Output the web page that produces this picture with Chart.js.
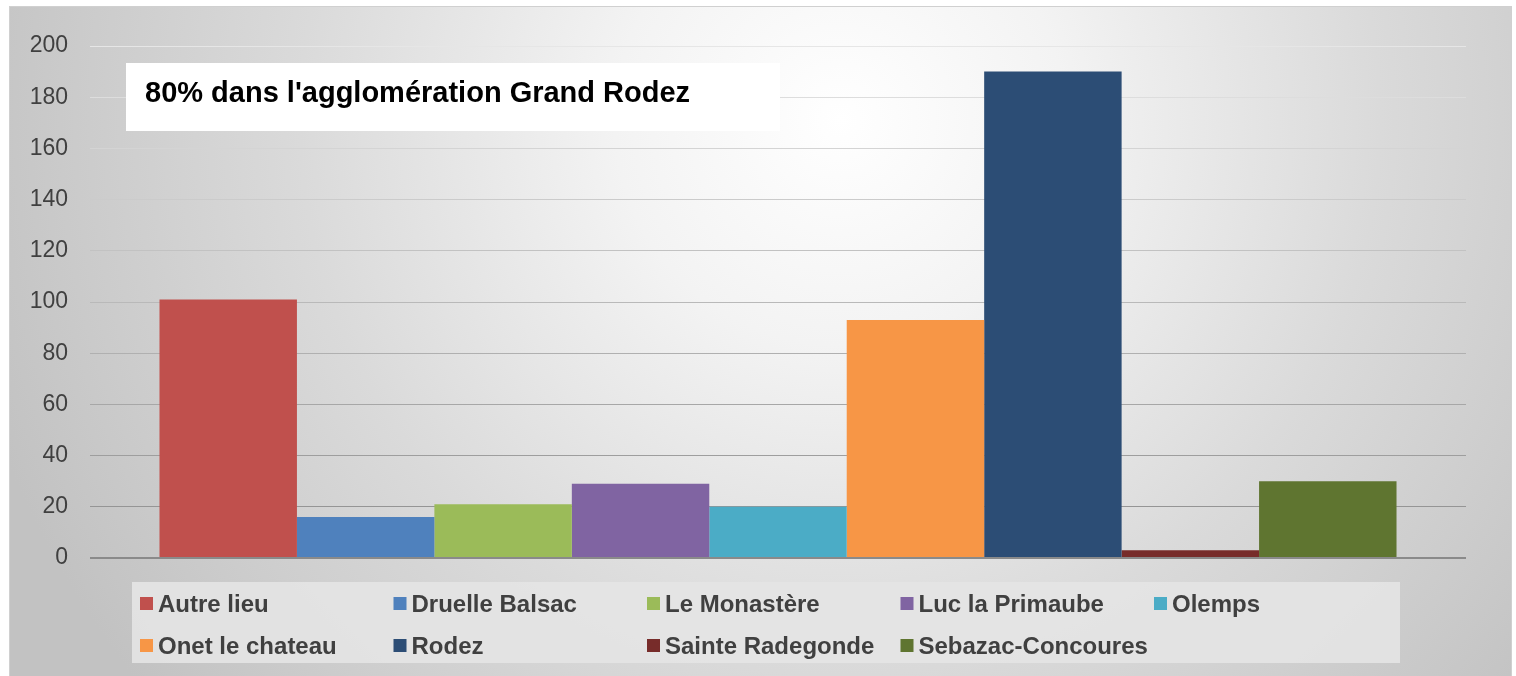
<!DOCTYPE html>
<html>
<head>
<meta charset="utf-8">
<script src="https://cdn.jsdelivr.net/npm/chart.js@4/dist/chart.umd.min.js"></script>
<style>
  html, body { margin: 0; padding: 0; background: #fff; }
  #wrap { width: 1516px; height: 676px; }
</style>
</head>
<body>
<div id="wrap"><canvas id="chart" width="1516" height="676"></canvas></div>
<script>
const communes = ["Autre lieu", "Druelle Balsac", "Le Monastère", "Luc la Primaube", "Olemps",
  "Onet le chateau", "Rodez", "Sainte Radegonde", "Sebazac-Concoures"];
const counts = [101, 16, 21, 29, 20, 93, 190, 3, 30];
const colors = ["#C0504D", "#4F81BD", "#9BBB59", "#8064A2", "#4BACC6",
  "#F79646", "#2C4D75", "#772C2A", "#5F7530"];
const titleText = "80% dans l'agglomération Grand Rodez";

const FONT = "'Liberation Sans', Arial, sans-serif";

// card background with soft radial light
const backgroundPlugin = {
  id: "cardBackground",
  beforeDraw(chart) {
    const ctx = chart.ctx;
    ctx.save();
    ctx.fillStyle = "#ffffff";
    ctx.fillRect(0, 0, chart.width, chart.height);
    const g = ctx.createRadialGradient(840, 120, 0, 840, 120, 900);
    g.addColorStop(0, "#ffffff");
    g.addColorStop(0.25, "#f3f3f3");
    g.addColorStop(0.6, "#dadada");
    g.addColorStop(1, "#c2c2c2");
    ctx.fillStyle = g;
    ctx.fillRect(9, 6, 1503, 670);
    ctx.strokeStyle = "#d0d0d0";
    ctx.lineWidth = 1;
    ctx.strokeRect(9.5, 6.5, 1502, 670);
    ctx.restore();
  }
};

// white box with the headline, sits over the grid
const titleBoxPlugin = {
  id: "titleBox",
  beforeDatasetsDraw(chart) {
    const ctx = chart.ctx;
    ctx.save();
    ctx.fillStyle = "#ffffff";
    ctx.fillRect(126, 63, 654, 68);
    ctx.fillStyle = "#000000";
    ctx.font = "bold 29px " + FONT;
    ctx.textBaseline = "alphabetic";
    ctx.fillText(titleText, 145, 102);
    ctx.restore();
  }
};

// legend laid out in 5 columns, 2 rows on a light panel
const gridLegendPlugin = {
  id: "gridLegend",
  afterDraw(chart) {
    const ctx = chart.ctx;
    ctx.save();
    ctx.fillStyle = "rgba(228,228,228,0.9)";
    ctx.fillRect(132, 582, 1268, 81);
    ctx.font = "bold 24px " + FONT;
    ctx.textBaseline = "middle";
    chart.data.datasets.forEach((ds, i) => {
      const col = i % 5;
      const row = Math.floor(i / 5);
      const x = 140 + col * 253.5;
      const y = 604 + row * 42;
      ctx.fillStyle = ds.backgroundColor;
      ctx.fillRect(x, y - 7, 13, 13);
      ctx.fillStyle = "#404040";
      ctx.fillText(ds.label, x + 18, y + 1);
    });
    ctx.restore();
  }
};

function gridColor(ctx) {
  const v = ctx.tick ? ctx.tick.value : 0;
  if (v === 0) return "#8a8a8a";
  const level = Math.round(140 + (v / 200) * 90);
  return `rgb(${level},${level},${level})`;
}

new Chart(document.getElementById("chart"), {
  type: "bar",
  data: {
    labels: [""],
    datasets: communes.map((name, i) => ({
      label: name,
      data: [counts[i]],
      backgroundColor: colors[i],
      categoryPercentage: 0.899,
      barPercentage: 1.0
    }))
  },
  options: {
    responsive: false,
    animation: false,
    layout: { padding: { left: 9, top: 46, right: 50, bottom: 118 } },
    plugins: {
      legend: { display: false },
      tooltip: { enabled: false },
      title: { display: false }
    },
    scales: {
      x: { display: false },
      y: {
        min: 0,
        max: 200,
        ticks: {
          stepSize: 20,
          padding: 22,
          color: "#404040",
          font: { family: FONT, size: 23 }
        },
        grid: {
          drawTicks: false,
          color: gridColor,
          lineWidth: (ctx) => (ctx.tick && ctx.tick.value === 0 ? 2 : 1)
        },
        border: { display: false },
        afterFit(scale) { scale.width = 81; }
      }
    }
  },
  plugins: [backgroundPlugin, titleBoxPlugin, gridLegendPlugin]
});
</script>
</body>
</html>
